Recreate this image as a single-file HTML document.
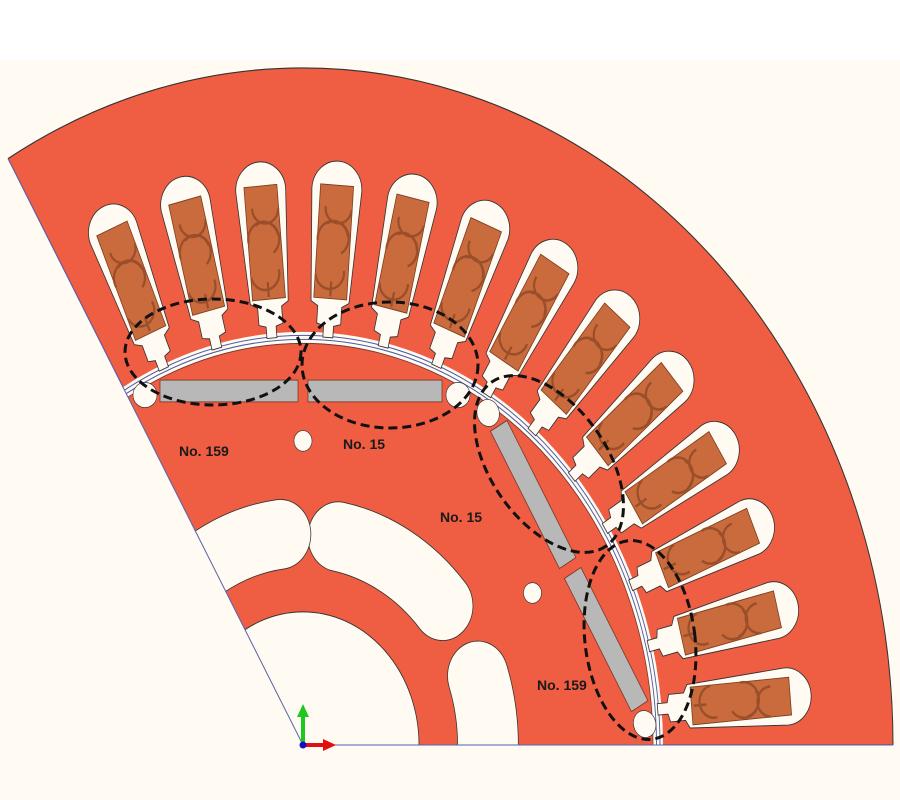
<!DOCTYPE html>
<html><head><meta charset="utf-8"><style>
html,body{margin:0;padding:0;background:#fffbf2;overflow:hidden;width:900px;height:800px}
svg{display:block}
text{font-family:"Liberation Sans",sans-serif;font-weight:bold;font-size:14px;fill:#1a1a1a}
</style></head><body>
<svg width="900" height="800" viewBox="0 0 900 800" xmlns="http://www.w3.org/2000/svg">
<defs>
<clipPath id="sec"><path d="M0 0 L600 0 A600 600 0 0 1 -300 519.6 Z"/></clipPath>
<g id="slot">
<path d="M-5 356 L-5 366 L-12 368 L-12 383 L-19 387 L-25 485 A25 25 0 0 0 25 485 L19 387 L12 383 L12 368 L5 366 L5 356 Z" fill="#fffbf2" stroke="#333" stroke-width="0.8"/>
<rect x="-16.5" y="390" width="33" height="99" fill="#c96b3d" stroke="#7a3e22" stroke-width="0.8"/>
<path d="M-16 410 A14 14 0 0 1 12 415 M-16 440 A14 14 0 0 0 14 445 M-10 470 A12 12 0 0 1 16 468 M0 392 L0 405 M-8 455 A9 9 0 0 0 8 430" fill="none" stroke="#9a4f2a" stroke-width="2.2"/>
</g>
<g id="pole">
<rect x="5" y="299" width="134" height="19" fill="#b8b8b8" stroke="#7a3a2a" stroke-width="0.8"/>
<rect x="-143" y="299" width="138" height="19" fill="#b8b8b8" stroke="#7a3a2a" stroke-width="0.8"/>
<ellipse cx="155" cy="305" rx="12" ry="11" fill="#fffbf2" stroke="#333" stroke-width="0.6"/>
<ellipse cx="-158" cy="305" rx="12" ry="11" fill="#fffbf2" stroke="#333" stroke-width="0.6"/>
<circle cx="0" cy="265" r="9" fill="#fffbf2" stroke="#333" stroke-width="0.6"/>
</g>
</defs>
<rect x="0" y="0" width="900" height="60" fill="#ffffff"/>
<g transform="translate(303,745) scale(1,-1.1475)">
<g clip-path="url(#sec)">
<path d="M0 0 L590 0 A590 590 0 0 1 -295 511 Z" fill="#ef5d42" stroke="#333" stroke-width="1"/>
<circle r="360" fill="#fffbf2"/>
<circle r="357" fill="none" stroke="#4a5aa8" stroke-width="0.9"/>
<circle r="353.5" fill="none" stroke="#4a5aa8" stroke-width="0.9"/>
<circle r="350" fill="#ef5d42" stroke="#7a3a2a" stroke-width="0.8"/>
<circle r="116" fill="#fffbf2" stroke="#333" stroke-width="0.8"/>
<g fill="none" stroke-linecap="round">
<path d="M174.9 -60.2 A185 185 0 0 1 174.9 60.2" stroke="#333" stroke-width="61.5"/>
<path d="M174.9 -60.2 A185 185 0 0 1 174.9 60.2" stroke="#fffbf2" stroke-width="60"/>
<path d="M139.6 121.4 A185 185 0 0 1 35.3 181.6" stroke="#333" stroke-width="61.5"/>
<path d="M139.6 121.4 A185 185 0 0 1 35.3 181.6" stroke="#fffbf2" stroke-width="60"/>
<path d="M-22.5 183.6 A185 185 0 0 1 -151.5 106.1" stroke="#333" stroke-width="61.5"/>
<path d="M-22.5 183.6 A185 185 0 0 1 -151.5 106.1" stroke="#fffbf2" stroke-width="60"/>
</g>
<use href="#pole"/>
<use href="#pole" transform="rotate(-60)"/>
<use href="#slot" transform="rotate(-85)"/>
<use href="#slot" transform="rotate(-76)"/>
<use href="#slot" transform="rotate(-67)"/>
<use href="#slot" transform="rotate(-58)"/>
<use href="#slot" transform="rotate(-49)"/>
<use href="#slot" transform="rotate(-40)"/>
<use href="#slot" transform="rotate(-31)"/>
<use href="#slot" transform="rotate(-22)"/>
<use href="#slot" transform="rotate(-13)"/>
<use href="#slot" transform="rotate(-4)"/>
<use href="#slot" transform="rotate(5)"/>
<use href="#slot" transform="rotate(14)"/>
<use href="#slot" transform="rotate(23)"/>
</g>
<line x1="0" y1="0" x2="-295" y2="511" stroke="#5a62b0" stroke-width="1"/>
</g>
<line x1="303" y1="745" x2="893" y2="745" stroke="#5a62b0" stroke-width="1"/>
<g fill="none" stroke="#111" stroke-width="3" stroke-dasharray="9 5">
<ellipse cx="213" cy="352" rx="88" ry="53"/>
<ellipse cx="390" cy="365" rx="88" ry="63"/>
<ellipse cx="549" cy="464" rx="100" ry="58" transform="rotate(55 549 464)"/>
<ellipse cx="640" cy="640" rx="55" ry="100" transform="rotate(-7 640 640)"/>
</g>
<text x="179" y="456">No. 159</text>
<text x="343" y="449">No. 15</text>
<text x="440" y="522">No. 15</text>
<text x="537" y="690">No. 159</text>
<line x1="303" y1="745" x2="303" y2="715" stroke="#1fc81f" stroke-width="4"/>
<polygon points="297,717 309,717 303,704" fill="#1fc81f"/>
<line x1="303" y1="745" x2="325" y2="745" stroke="#e01010" stroke-width="4"/>
<polygon points="323,739 323,751 336,745" fill="#e01010"/>
<circle cx="303" cy="745" r="3.5" fill="#1010c0"/>
</svg>
</body></html>
